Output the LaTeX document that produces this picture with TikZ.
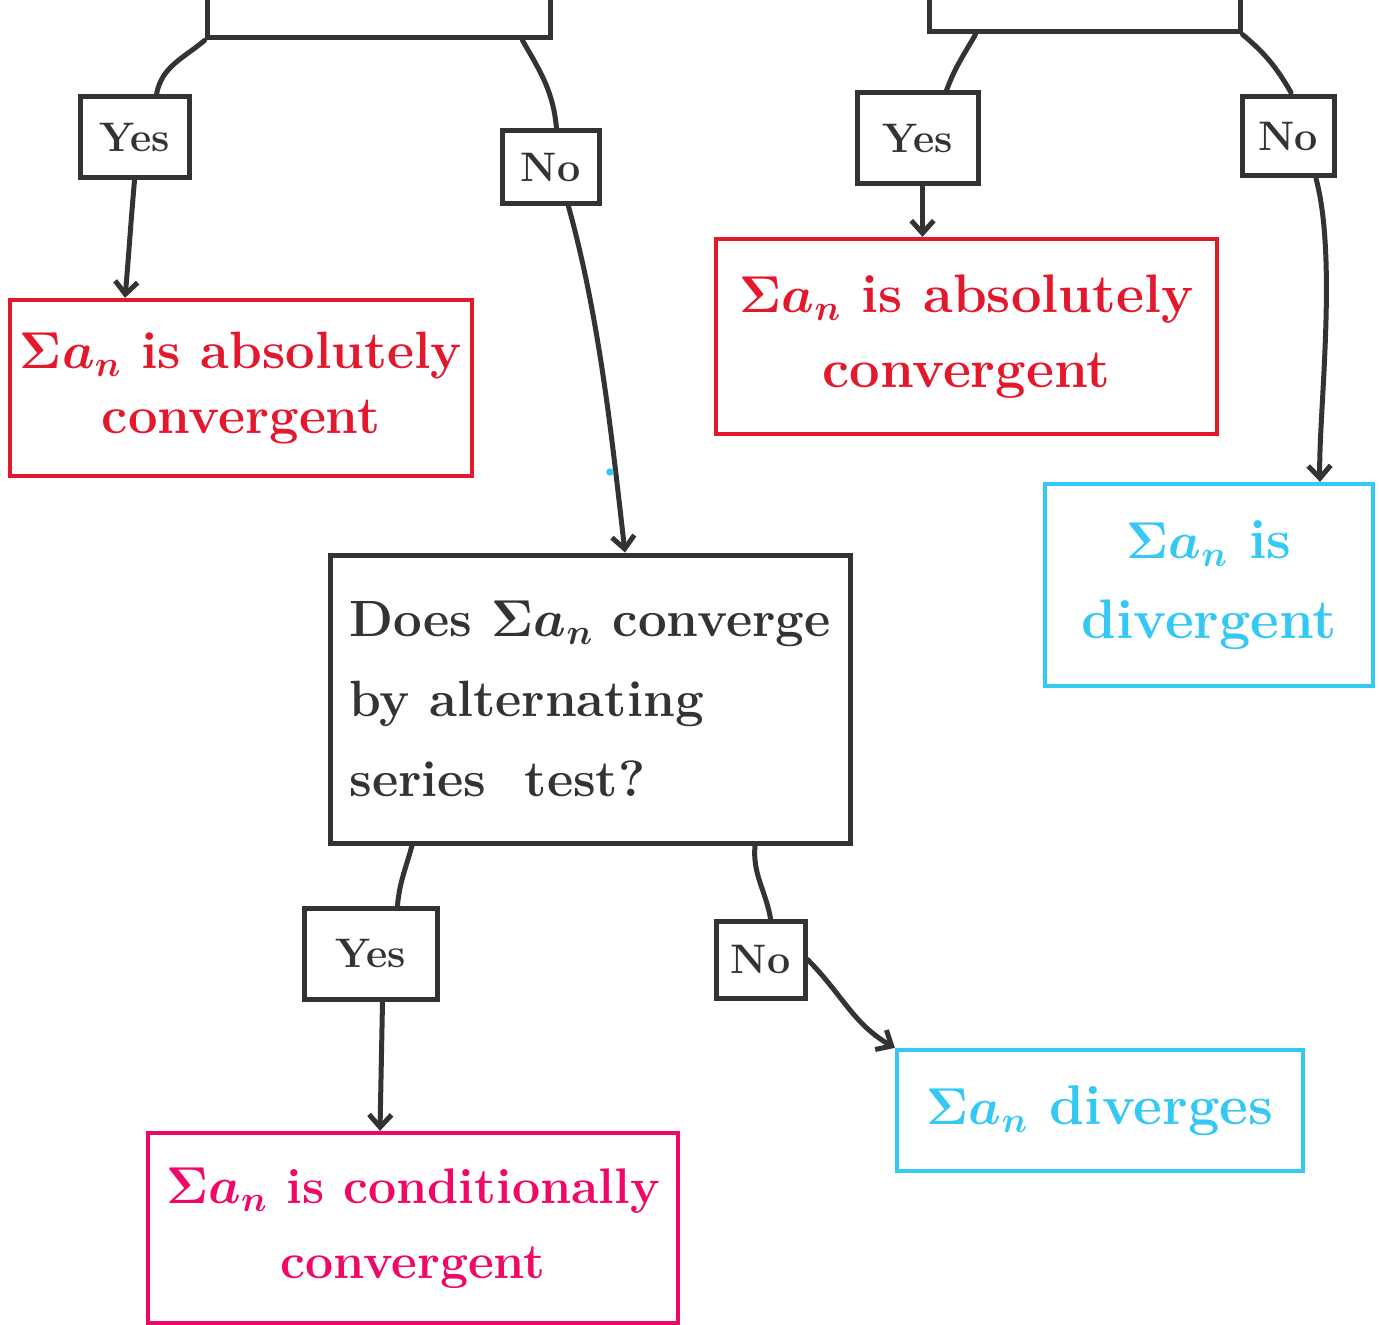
\documentclass[tikz,border=0pt]{standalone}
\usepackage{amsmath}
\usetikzlibrary{arrows.meta,calc}
\definecolor{inkgray}{RGB}{51,51,51}
\definecolor{inkred}{RGB}{228,24,44}
\definecolor{inkcyan}{RGB}{52,200,245}
\definecolor{inkpink}{RGB}{240,8,104}
\def\unitpx{0.4pt}
\tikzset{
	size/.style 2 args={minimum width=#1*\unitpx, minimum height=#2*\unitpx, inner sep=0pt},
	graybox/.style={draw=inkgray, line width=2pt, text=inkgray},
	answer/.style={graybox, font=\fontsize{16.5}{20}\selectfont\bfseries},
	redbox/.style={draw=inkred, line width=1.7pt, text=inkred, align=center},
	cyanbox/.style={draw=inkcyan, line width=1.7pt, text=inkcyan, align=center},
	pinkbox/.style={draw=inkpink, line width=1.7pt, text=inkpink, align=center},
	conn/.style={draw=inkgray, line width=2pt, line cap=round},
	arr/.style={conn, -{Straight Barb[length=5pt,width=9pt]}}
}
\begin{document}
\begin{tikzpicture}[x=\unitpx, y=-\unitpx]
		\useasboundingbox (0,0) rectangle (1379,1325);
		\clip (0,0) rectangle (1379,1325);
		% question boxes cut off by the page edge
		\node[graybox, size={343}{160}] (qL) at (378.5,-42) {};
		\node[graybox, size={311}{160}] (qR) at (1084.5,-48) {};
		% left branch
		\node[answer, size={109}{81}] (yesA) at (134.5,137.5) {Yes};
		\node[answer, size={97}{73}] (noA) at (550.5,167.5) {No};
		\node[redbox, size={462}{176}, font=\fontsize{21}{26}\selectfont\bfseries\boldmath] (absA) at (241,388) {$\Sigma a_n$ is absolutely\\convergent};
		% right branch
		\node[answer, size={121}{91}] (yesB) at (917.5,138.5) {Yes};
		\node[answer, size={92}{79}] (noB) at (1288,136.5) {No};
		\node[redbox, size={501}{195}, font=\fontsize{21.7}{30}\selectfont\bfseries\boldmath] (absB) at (966.5,336.5) {$\Sigma a_n$ is absolutely\\convergent};
		\node[cyanbox, size={328}{202}, font=\fontsize{22.3}{32}\selectfont\bfseries\boldmath] (divA) at (1209,585) {$\Sigma a_n$ is\\divergent};
		% alternating series test
		\node[graybox, size={520}{288}, align=left, font=\fontsize{20.4}{32}\selectfont\bfseries\boldmath] (quest) at (590,699) {Does $\Sigma a_n$ converge\\ by alternating\\series\ \ test?};
		\node[answer, size={133}{91}] (yesC) at (370.5,953.5) {Yes};
		\node[answer, size={89}{77}] (noC) at (760.5,959.5) {No};
		\node[pinkbox, size={530}{190}, font=\fontsize{20}{30}\selectfont\bfseries\boldmath] (condC) at (413,1228) {$\Sigma a_n$ is conditionally\\convergent};
		\node[cyanbox, size={406}{121}, font=\fontsize{22.4}{30}\selectfont\bfseries\boldmath] (divB) at (1100,1110.5) {$\Sigma a_n$ diverges};
		% connectors
		\draw[conn] (qL.south west) to[out=-140,in=80] ($(yesA.north)+(22,0)$);
		\draw[conn] ($(qL.south east)+(-30,0)$) to[out=-60,in=95] ($(noA.north)+(6,0)$);
		\draw[arr] (yesA.south) to[out=-95,in=85] ($(absA.north)+(-116,0)$);
		\draw[arr] ($(noA.south)+(18,0)$) .. controls (600,320) and (612,440) .. ($(quest.north)+(35,0)$);
		\draw[conn] ($(qR.south west)+(49,0)$) to[out=-120,in=70] ($(yesB.north)+(29,0)$);
		\draw[conn] (qR.south east) to[out=-40,in=120] ($(noB.north)+(3,-2)$);
		\draw[arr] ($(yesB.south)+(5,0)$) -- ($(absB.north)+(-44,0)$);
		\draw[arr] ($(noB.south)+(28,0)$) .. controls (1338,260) and (1318,420) .. ($(divA.north)+(111,0)$);
		\draw[conn] ($(quest.south)+(-178,0)$) to[out=-105,in=85] ($(yesC.north)+(27,0)$);
		\draw[conn] ($(quest.south)+(165,0)$) to[out=-95,in=100] ($(noC.north)+(10,0)$);
		\draw[arr] ($(yesC.south)+(12,0)$) -- ($(condC.north)+(-33,0)$);
		\draw[arr] (noC.east) to[out=-45,in=150] (divB.north west);
		\fill[inkcyan] (610,472) circle (1.5pt);
	\end{tikzpicture}
\end{document}
